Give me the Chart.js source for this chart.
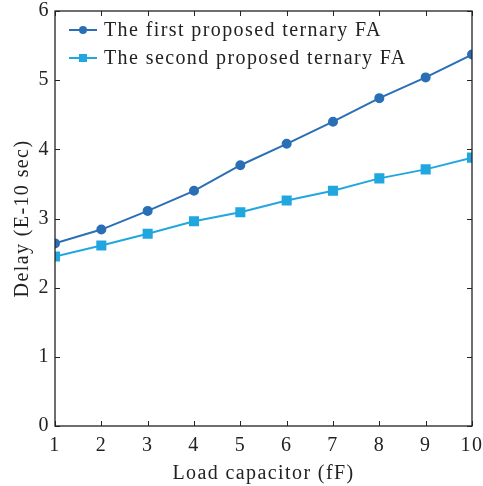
<!DOCTYPE html>
<html>
<head>
<meta charset="utf-8">
<script src="https://cdn.jsdelivr.net/npm/chart.js@4/dist/chart.umd.min.js"></script>
<style>
  html, body { margin: 0; padding: 0; background: #ffffff; }
  #wrap { width: 483px; height: 486px; }
</style>
</head>
<body>
<div id="wrap"><canvas id="c" width="483" height="486"></canvas></div>
<script>
// Load capacitance (fF)
const loadCap = [1, 2, 3, 4, 5, 6, 7, 8, 9, 10];
// Delay (E-10 sec) for each full adder design
const firstFA = [2.64, 2.84, 3.11, 3.40, 3.77, 4.08, 4.40, 4.74, 5.04, 5.37];
const secondFA = [2.45, 2.61, 2.78, 2.96, 3.09, 3.26, 3.40, 3.58, 3.71, 3.88];
const seriesNames = ['The first proposed ternary FA', 'The second proposed ternary FA'];
const yTicks = [0, 1, 2, 3, 4, 5, 6];

const FONT = '"Liberation Serif", "DejaVu Serif", serif';
const FS = 20;
const SPACING = '1.4px';
const TEXT = '#222222';
const C1 = '#2a6fb6';
const C2 = '#21a7df';

// Slightly wider lettering for every piece of text on the canvas
const spacingPlugin = {
  id: 'spacing',
  beforeInit(chart) { chart.ctx.letterSpacing = SPACING; },
  beforeLayout(chart) { chart.ctx.letterSpacing = SPACING; },
  beforeDraw(chart) { chart.ctx.letterSpacing = SPACING; }
};

// Frame around the plot area plus inward tick marks
const framePlugin = {
  id: 'frame',
  afterDatasetsDraw(chart) {
    const { ctx, chartArea: a, scales } = chart;
    ctx.save();
    ctx.strokeStyle = '#222';
    ctx.lineWidth = 1.3;
    ctx.strokeRect(a.left, a.top, a.right - a.left, a.bottom - a.top);
    ctx.lineWidth = 1;
    const tl = 5;
    scales.x.ticks.forEach(t => {
      const px = Math.round(scales.x.getPixelForValue(t.value)) + 0.5;
      ctx.beginPath();
      ctx.moveTo(px, a.bottom); ctx.lineTo(px, a.bottom - tl);
      ctx.moveTo(px, a.top); ctx.lineTo(px, a.top + tl);
      ctx.stroke();
    });
    scales.y.ticks.forEach(t => {
      const py = Math.round(scales.y.getPixelForValue(t.value)) + 0.5;
      ctx.beginPath();
      ctx.moveTo(a.left, py); ctx.lineTo(a.left + tl, py);
      ctx.moveTo(a.right, py); ctx.lineTo(a.right - tl, py);
      ctx.stroke();
    });
    ctx.restore();
  }
};

// Legend with line-and-marker samples in the upper left
const legendPlugin = {
  id: 'lineLegend',
  afterDraw(chart) {
    const { ctx, chartArea: a } = chart;
    ctx.save();
    ctx.letterSpacing = SPACING;
    ctx.font = FS + 'px ' + FONT;
    ctx.textBaseline = 'middle';
    chart.data.datasets.forEach((ds, i) => {
      const y = a.top + 19 + i * 28;
      const x0 = a.left + 14;
      const x1 = x0 + 28;
      ctx.strokeStyle = ds.borderColor;
      ctx.lineWidth = 2;
      ctx.beginPath(); ctx.moveTo(x0, y); ctx.lineTo(x1, y); ctx.stroke();
      ctx.fillStyle = ds.borderColor;
      const xm = (x0 + x1) / 2;
      if (ds.pointStyle === 'rect') {
        ctx.fillRect(xm - 4, y - 4, 8, 8);
      } else {
        ctx.beginPath(); ctx.arc(xm, y, 4, 0, Math.PI * 2); ctx.fill();
      }
      ctx.fillStyle = TEXT;
      ctx.fillText(ds.label, x1 + 7, y + 1);
    });
    ctx.restore();
  }
};

new Chart(document.getElementById('c'), {
  type: 'line',
  data: {
    labels: loadCap,
    datasets: [
      {
        label: seriesNames[0],
        data: loadCap.map((x, i) => ({ x, y: firstFA[i] })),
        borderColor: C1, backgroundColor: C1,
        borderWidth: 2, pointStyle: 'circle', pointRadius: 4, pointHoverRadius: 4,
        tension: 0
      },
      {
        label: seriesNames[1],
        data: loadCap.map((x, i) => ({ x, y: secondFA[i] })),
        borderColor: C2, backgroundColor: C2,
        borderWidth: 2, pointStyle: 'rect', pointRadius: 5.7, pointHoverRadius: 5.7,
        tension: 0
      }
    ]
  },
  options: {
    responsive: false,
    animation: false,
    events: [],
    layout: { padding: 0 },
    plugins: { legend: { display: false }, tooltip: { enabled: false } },
    scales: {
      x: {
        type: 'linear', min: 1, max: 10,
        afterBuildTicks(s) { s.ticks = loadCap.map(v => ({ value: v })); },
        afterFit(s) { s.height = 60; s.paddingLeft = 0; s.paddingRight = 11; },
        grid: { display: false, drawTicks: false },
        border: { display: false },
        ticks: { color: TEXT, font: { family: FONT, size: FS }, padding: 8, maxRotation: 0, autoSkip: false },
        title: { display: true, text: 'Load capacitor (fF)', color: TEXT, font: { family: FONT, size: FS }, padding: { top: 0, bottom: 0 } }
      },
      y: {
        type: 'linear', min: 0, max: 6,
        afterBuildTicks(s) { s.ticks = yTicks.map(v => ({ value: v })); },
        afterFit(s) { s.width = 55; s.paddingTop = 11; s.paddingBottom = 0; },
        grid: { display: false, drawTicks: false },
        border: { display: false },
        ticks: { color: TEXT, font: { family: FONT, size: FS }, padding: 5 },
        title: { display: true, text: 'Delay (E-10 sec)', color: TEXT, font: { family: FONT, size: FS }, padding: { top: 11, bottom: 0 } }
      }
    }
  },
  plugins: [spacingPlugin, framePlugin, legendPlugin]
});
</script>
</body>
</html>
